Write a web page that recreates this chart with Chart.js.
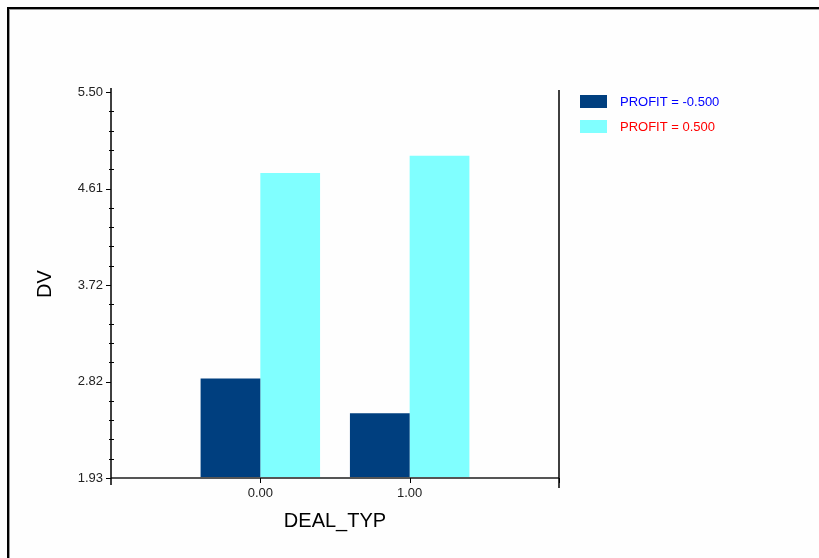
<!DOCTYPE html>
<html>
<head>
<meta charset="utf-8">
<script src="https://cdn.jsdelivr.net/npm/chart.js@4/dist/chart.umd.min.js"></script>
<style>
  html, body { margin: 0; padding: 0; background: #ffffff; }
  #wrap { width: 819px; height: 558px; position: relative; }
</style>
</head>
<body>
<div id="wrap"><canvas id="dvChart" width="819" height="558"></canvas></div>
<script>
// categorias del eje X (las vacias dejan hueco a cada lado)
const categories = ['', '0.00', '1.00', ''];
// valores de DV por grupo de PROFIT
const profitNeg = [null, 2.85, 2.53, null];
const profitPos = [null, 4.75, 4.91, null];
// eje Y
const yTickValues = [1.93, 2.8225, 3.715, 4.6075, 5.50];
const yTickLabels = ['1.93', '2.82', '3.72', '4.61', '5.50'];
// leyenda
const seriesLabels = ['PROFIT = -0.500', 'PROFIT = 0.500'];
const seriesColors = ['#003f7f', '#80ffff'];
const legendTextColors = ['#0000ff', '#ff0000'];

const FONT = '"Liberation Sans", Arial, sans-serif';

// marco, ejes con marcas menores, titulos y leyenda
const decoraciones = {
    id: 'decoraciones',
    beforeDraw(chart) {
        const c = chart.ctx;
        c.save();
        c.fillStyle = '#fefefe';
        c.fillRect(0, 0, chart.width, chart.height);
        c.fillStyle = '#000';
        c.fillRect(7, 7, 2, chart.height);
        c.fillRect(7, 7, chart.width, 2);
        c.fillStyle = '#9a9a9a';
        c.fillRect(9, 9, 1, chart.height);
        c.fillRect(9, 9, chart.width, 1);
        c.restore();
    },
    afterDraw(chart) {
        const c = chart.ctx;
        const a = chart.chartArea;
        const y = chart.scales.y;
        const x = chart.scales.x;
        c.save();

        // eje X
        c.strokeStyle = '#555';
        c.lineWidth = 2;
        c.beginPath();
        c.moveTo(a.left, a.bottom);
        c.lineTo(a.right, a.bottom);
        c.stroke();

        // eje Y y linea derecha
        c.strokeStyle = '#000';
        c.lineWidth = 1.5;
        c.beginPath();
        c.moveTo(a.left, a.top - 4);
        c.lineTo(a.left, a.bottom + 7);
        c.moveTo(a.right, a.top - 2);
        c.lineTo(a.right, a.bottom + 10);
        c.stroke();

        // marcas del eje Y (mayores y menores)
        c.lineWidth = 1;
        c.beginPath();
        yTickValues.forEach((v, i) => {
            const py = Math.round(y.getPixelForValue(v)) + 0.5;
            c.moveTo(a.left - 5, py);
            c.lineTo(a.left, py);
            if (i < yTickValues.length - 1) {
                const step = (yTickValues[i + 1] - v) / 5;
                for (let k = 1; k < 5; k++) {
                    const my = Math.round(y.getPixelForValue(v + step * k)) + 0.5;
                    c.moveTo(a.left - 2, my);
                    c.lineTo(a.left + 3, my);
                }
            }
        });
        // marcas del eje X
        categories.forEach((cat, i) => {
            if (i === 0) return;
            const px = Math.round(x.getPixelForValue(i)) + 0.5;
            c.moveTo(px, a.bottom);
            c.lineTo(px, a.bottom + 5);
        });
        c.stroke();

        // titulos de ejes
        c.fillStyle = '#000';
        c.font = '20px ' + FONT;
        c.textAlign = 'center';
        c.textBaseline = 'middle';
        c.fillText('DEAL_TYP', (a.left + a.right) / 2, 521);
        c.save();
        c.translate(45, 284);
        c.rotate(-Math.PI / 2);
        c.fillText('DV', 0, 0);
        c.restore();

        // leyenda
        c.font = '13px ' + FONT;
        c.textAlign = 'left';
        seriesLabels.forEach((lbl, i) => {
            const top = 95 + i * 25;
            c.fillStyle = seriesColors[i];
            c.fillRect(580, top, 27, 13);
            c.fillStyle = legendTextColors[i];
            c.fillText(lbl, 620, top + 7);
        });
        c.restore();
    }
};

const ctx = document.getElementById('dvChart').getContext('2d');
new Chart(ctx, {
    type: 'bar',
    data: {
        labels: categories,
        datasets: [
            {
                label: seriesLabels[0],
                data: profitNeg,
                backgroundColor: seriesColors[0],
                borderWidth: 0
            },
            {
                label: seriesLabels[1],
                data: profitPos,
                backgroundColor: seriesColors[1],
                borderWidth: 0
            }
        ]
    },
    options: {
        responsive: false,
        animation: false,
        events: [],
        layout: { padding: { left: 0, top: 92, right: 260, bottom: 0 } },
        plugins: {
            legend: { display: false },
            tooltip: { enabled: false }
        },
        datasets: {
            bar: { categoryPercentage: 0.8, barPercentage: 1.0 }
        },
        scales: {
            x: {
                offset: false,
                grid: { display: false },
                border: { display: false },
                ticks: {
                    autoSkip: false,
                    maxRotation: 0,
                    padding: 0,
                    color: '#222',
                    font: { family: FONT, size: 13 }
                },
                afterFit(scale) { scale.height = 80; }
            },
            y: {
                min: 1.93,
                max: 5.50,
                grid: { display: false },
                border: { display: false },
                afterBuildTicks(scale) {
                    scale.ticks = yTickValues.map(v => ({ value: v }));
                },
                ticks: {
                    padding: 0,
                    color: '#222',
                    font: { family: FONT, size: 13 },
                    callback: function (value, index) {
                        return yTickLabels[index];
                    }
                },
                afterFit(scale) { scale.width = 111; }
            }
        }
    },
    plugins: [decoraciones]
});
</script>
</body>
</html>
